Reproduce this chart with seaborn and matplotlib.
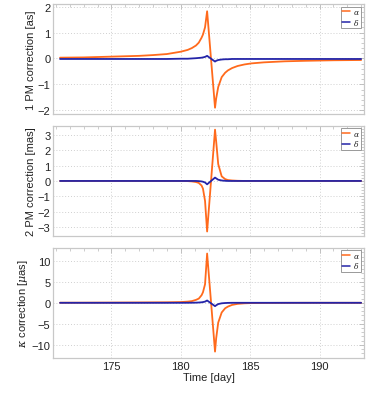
import numpy as np
import pandas as pd
import matplotlib
matplotlib.use("Agg")
import matplotlib.pyplot as plt
from matplotlib.ticker import MultipleLocator, AutoMinorLocator
import seaborn as sns

# Tiempos (dias)
tiempo = [171.3, 173.0, 175.0, 177.0, 178.0, 179.0, 180.0, 180.5, 180.8, 181.1,
          181.3, 181.5, 181.6, 181.75, 181.9, 182.47, 182.55, 182.7, 182.95, 183.2,
          183.4, 183.7, 184.1, 184.6, 185.1, 186.0, 187.5, 189.0, 191.0, 193.0]

# Panel 1: correccion 1PM [as]
pm1_alpha = [0.03, 0.04, 0.07, 0.10, 0.13, 0.17, 0.26, 0.33, 0.40, 0.50,
             0.61, 0.80, 0.92, 1.20, 1.82, -1.90, -1.55, -1.10, -0.72, -0.55,
             -0.46, -0.37, -0.29, -0.23, -0.19, -0.15, -0.11, -0.09, -0.07, -0.06]
pm1_delta = [-0.02, -0.02, -0.02, -0.02, -0.02, -0.02, -0.01, -0.01, 0.0, 0.01,
             0.02, 0.03, 0.04, 0.06, 0.10, -0.12, -0.09, -0.06, -0.04, -0.03,
             -0.03, -0.02, -0.02, -0.02, -0.02, -0.02, -0.02, -0.02, -0.02, -0.02]

# Panel 2: correccion 2PM [mas]
pm2_alpha = [0.0, 0.0, 0.0, 0.0, 0.0, 0.0, 0.0, -0.01, -0.03, -0.07,
             -0.13, -0.30, -0.50, -1.30, -3.30, 3.35, 2.60, 1.10, 0.30, 0.12,
             0.06, 0.03, 0.01, 0.0, 0.0, 0.0, 0.0, 0.0, 0.0, 0.0]
pm2_delta = [0.0, 0.0, 0.0, 0.0, 0.0, 0.0, 0.0, 0.0, 0.0, 0.0,
             -0.01, -0.03, -0.05, -0.10, -0.22, 0.22, 0.17, 0.08, 0.03, 0.01,
             0.0, 0.0, 0.0, 0.0, 0.0, 0.0, 0.0, 0.0, 0.0, 0.0]

# Panel 3: correccion kappa [muas]
k_alpha = [0.02, 0.03, 0.05, 0.08, 0.10, 0.12, 0.18, 0.28, 0.40, 0.70,
           1.00, 1.80, 2.50, 4.40, 11.7, -11.6, -8.5, -4.7, -2.3, -1.3,
           -0.9, -0.5, -0.25, -0.12, -0.06, -0.03, -0.01, 0.0, 0.0, 0.0]
k_delta = [0.0, 0.0, 0.0, 0.0, 0.0, 0.0, 0.0, 0.01, 0.02, 0.04,
           0.07, 0.12, 0.17, 0.28, 0.55, -0.80, -0.60, -0.30, -0.12, -0.05,
           -0.02, 0.0, 0.0, 0.0, 0.0, 0.0, 0.0, 0.0, 0.0, 0.0]

paneles = [
    (pm1_alpha, pm1_delta, "1 PM correction [as]", (-2.15, 2.1), 1, -2, 2),
    (pm2_alpha, pm2_delta, "2 PM correction [mas]", (-3.6, 3.6), 1, -3, 3),
    (k_alpha, k_delta, r"$\kappa$ correction [$\mu$as]", (-13.1, 13.1), 5, -10, 10),
]

naranja = "#FF6A1C"
azul = "#2424A8"
gris = "#C8C8C8"

sns.set_theme(style="white")
plt.rcParams['font.family'] = ['Liberation Sans', 'DejaVu Sans']
plt.rcParams['mathtext.fontset'] = 'dejavuserif'

fig, axs = plt.subplots(3, 1, figsize=(3.74, 4.14), dpi=100, sharex=True)
fig.subplots_adjust(left=0.142, right=0.973, top=0.988, bottom=0.133, hspace=0.105)

for ax, (ya, yd, etiqueta, lims, paso, ymin, ymax) in zip(axs, paneles):
    df = pd.DataFrame({
        "tiempo": tiempo * 2,
        "valor": ya + yd,
        "comp": [r"$\alpha$"] * len(tiempo) + [r"$\delta$"] * len(tiempo),
    })
    sns.lineplot(data=df, x="tiempo", y="valor", hue="comp",
                 palette={r"$\alpha$": naranja, r"$\delta$": azul},
                 linewidth=1.3, ax=ax)
    ax.set_xlim(170.8, 193.2)
    ax.set_ylim(*lims)
    ax.set_yticks(np.arange(ymin, ymax + 0.1, paso))
    ax.xaxis.set_major_locator(MultipleLocator(5))
    ax.xaxis.set_minor_locator(MultipleLocator(1))
    ax.yaxis.set_minor_locator(AutoMinorLocator(5))
    ax.grid(True, which="major", linestyle=(0, (1, 2)), color="#D0D0D0", linewidth=0.7)
    for s in ax.spines.values():
        s.set_color(gris)
        s.set_linewidth(0.9)
    ax.tick_params(which="both", direction="in", top=True, right=True,
                   color="#B8B8B8", labelsize=8, labelcolor="#222222", pad=2)
    ax.tick_params(which="major", length=3.5, width=0.6)
    ax.tick_params(which="minor", length=2, width=0.5)
    ax.set_ylabel(etiqueta, fontsize=8, labelpad=1, color="#222222")
    ax.set_xlabel("")
    leg = ax.legend(loc="upper right", fontsize=5.5, handlelength=1.0,
                    handletextpad=0.35, borderpad=0.2, labelspacing=0.05,
                    frameon=True, fancybox=False, framealpha=1,
                    borderaxespad=0.35)
    for linea in leg.get_lines():
        linea.set_linewidth(1.1)
    leg.get_frame().set_edgecolor("#999999")
    leg.get_frame().set_linewidth(0.7)

axs[-1].set_xlabel("Time [day]", fontsize=8, labelpad=1, color="#222222")

plt.savefig("out.png", dpi=100)
